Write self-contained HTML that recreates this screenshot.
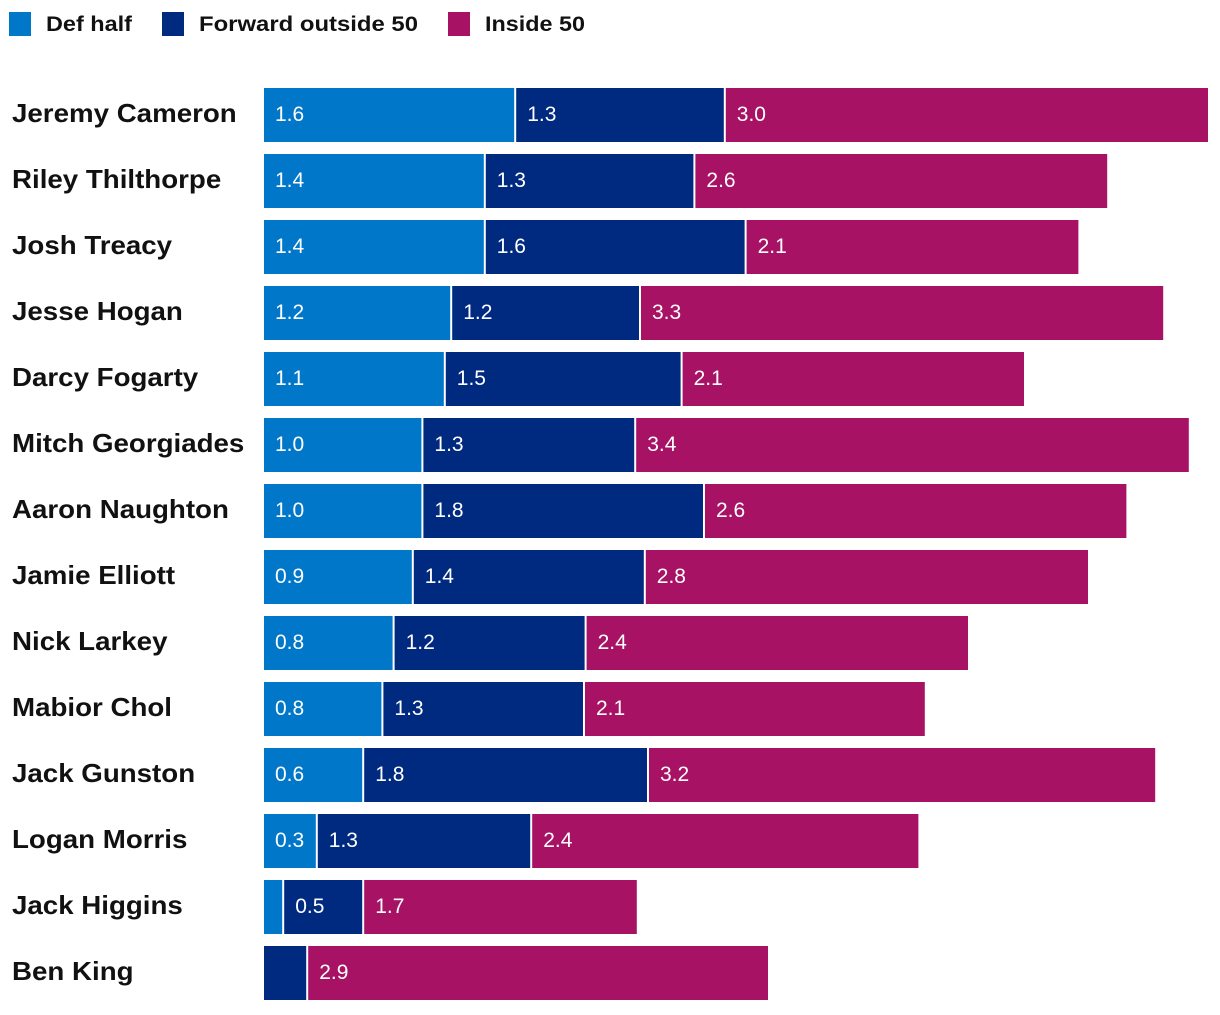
<!DOCTYPE html>
<html><head><meta charset="utf-8"><style>
body{margin:0;background:#fff;width:1220px;height:1010px;overflow:hidden;font-family:"Liberation Sans",sans-serif}
</style></head><body>
<svg id="chart" width="1220" height="1010" xmlns="http://www.w3.org/2000/svg">
<g font-size="21" fill="#111" font-weight="bold">
<rect x="9" y="12" width="22" height="24" fill="#0077c8"/>
<text x="46" y="31" textLength="86" lengthAdjust="spacingAndGlyphs">Def half</text>
<rect x="162" y="12" width="22" height="24" fill="#002a7f"/>
<text x="199" y="31" textLength="219" lengthAdjust="spacingAndGlyphs">Forward outside 50</text>
<rect x="448" y="12" width="22" height="24" fill="#a71265"/>
<text x="485" y="31" textLength="100" lengthAdjust="spacingAndGlyphs">Inside 50</text>
</g>
<g id="bars"></g>
</svg>
<script>
const players=["Jeremy Cameron","Riley Thilthorpe","Josh Treacy","Jesse Hogan","Darcy Fogarty","Mitch Georgiades","Aaron Naughton","Jamie Elliott","Nick Larkey","Mabior Chol","Jack Gunston","Logan Morris","Jack Higgins","Ben King"];
const defHalf=[1.57,1.38,1.38,1.17,1.13,0.99,0.99,0.93,0.81,0.74,0.62,0.33,0.12,0];
const fwdOutside=[1.31,1.31,1.63,1.18,1.48,1.33,1.76,1.45,1.2,1.26,1.78,1.34,0.5,0.27];
const inside50=[3.02,2.58,2.08,3.27,2.14,3.46,2.64,2.77,2.39,2.13,3.17,2.42,1.71,2.88];
const defLabels=["1.6","1.4","1.4","1.2","1.1","1.0","1.0","0.9","0.8","0.8","0.6","0.3","0.1",""];
const fwdLabels=["1.3","1.3","1.6","1.2","1.5","1.3","1.8","1.4","1.2","1.3","1.8","1.3","0.5","0.3"];
const insLabels=["3.0","2.6","2.1","3.3","2.1","3.4","2.6","2.8","2.4","2.1","3.2","2.4","1.7","2.9"];
const NS="http://www.w3.org/2000/svg";
const x0=264, pxPerUnit=160, top0=88, step=66, barH=54, nameScale=1.065;
const xScale=v=>x0+v*pxPerUnit;
const yScale=i=>top0+i*step;
const g=document.getElementById('bars');
const series=[{vals:defHalf,labels:defLabels,color:"#0077c8",key:"def-half"},{vals:fwdOutside,labels:fwdLabels,color:"#002a7f",key:"forward-outside-50"},{vals:inside50,labels:insLabels,color:"#a71265",key:"inside-50"}];
players.forEach((p,i)=>{
  const y=yScale(i);
  const t=document.createElementNS(NS,'text');
  
  
  t.setAttribute('x',12);t.setAttribute('y',y+34);
  t.setAttribute('font-size','26');t.setAttribute('font-weight','bold');t.setAttribute('fill','#111');
  t.textContent=p;g.appendChild(t);
  const w=t.getComputedTextLength();
  t.setAttribute('textLength',w*nameScale);
  t.setAttribute('lengthAdjust','spacingAndGlyphs');
  let cum=0;
  series.forEach(s=>{
    const v=s.vals[i];
    if(v<=0) return;
    const xa=xScale(cum), xb=xScale(cum+v);
    const r=document.createElementNS(NS,'rect');
    
    
    const left=cum>0?xa+1:xa;
    r.setAttribute('x',left);r.setAttribute('y',y);
    r.setAttribute('width',Math.max(0,xb-left-(s.key!=="inside-50"?1:0)));r.setAttribute('height',barH);
    r.setAttribute('fill',s.color);g.appendChild(r);
    if(xb-xa>48 && s.labels[i]){
      const l=document.createElementNS(NS,'text');
      
      
      l.setAttribute('x',left+11);l.setAttribute('y',y+33);
      l.setAttribute('font-size','21');l.setAttribute('fill','#fff');
      l.textContent=s.labels[i];g.appendChild(l);
    }
    cum+=v;
  });
});
</script>
</body></html>
